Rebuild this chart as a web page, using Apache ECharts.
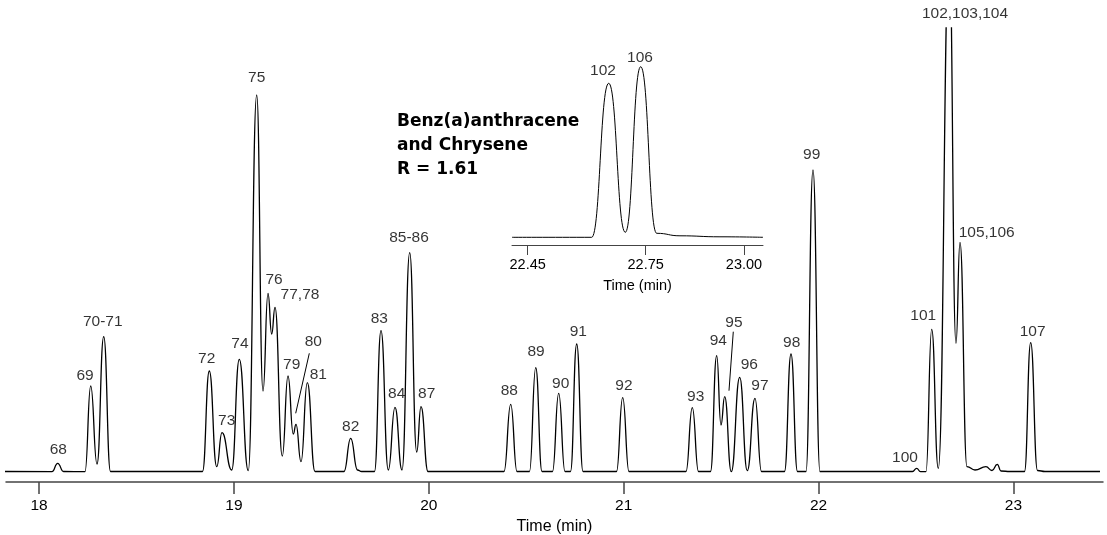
<!DOCTYPE html>
<html><head><meta charset="utf-8">
<script src="https://cdn.jsdelivr.net/npm/echarts@6/dist/echarts.min.js"></script>
<style>html,body{margin:0;padding:0;background:#fff}#c{width:1107px;height:535px}</style>
</head><body><div id="c"></div>
<script>
// ---- main chromatogram trace (time in min, detector signal in arbitrary units) ----
const traceTimes = [
  17.825, 18.066, 18.0954, 18.1252, 18.2355, 18.2648, 18.2971, 18.3315, 18.3664,
  18.8385, 18.8734, 18.9114, 18.9386, 18.9883, 19.0273, 19.0735, 19.1166, 19.1490,
  19.1746, 19.1936, 19.2105, 19.2480, 19.2773, 19.3044, 19.3183, 19.3440, 19.3763,
  19.4158, 19.5646, 19.5990, 19.6339, 19.6550, 19.7211, 19.7545, 19.7920, 19.8263, 19.8623,
  19.9018, 19.9377, 19.9597, 19.9957, 20.3857, 20.4201, 20.4524, 20.5165, 20.5484,
  20.5807, 20.6346, 20.6664, 20.6987, 20.7269, 20.7588, 20.7911, 20.9630, 20.9948,
  21.0271, 21.3196, 21.3520, 21.3838, 21.4454, 21.4772, 21.4992, 21.5182, 21.5521,
  21.5952, 21.6342, 21.6737, 21.7071, 21.8251, 21.8585, 21.8918, 21.9354, 21.9714,
  22.0073, 22.4819, 22.5035, 22.5230, 22.5512, 22.5805, 22.6143, 22.6708, 22.7052,
  22.7257, 22.7616, 22.8027, 22.8591, 22.8899, 22.9171, 22.9361, 22.9823, 23.0567,
  23.0885, 23.1234, 23.1619, 23.4441
];
const traceSignals = [
  0.5, 0.3, 8.7, 0.5, 0.3, 86, 8, 135.3, 0.5,
  0.5, 101, 5.3, 39.3, 2, 112.7, 1.3, 377, 81,
  178.7, 138, 164.7, 16, 96, 38, 47.7, 10.3, 89.3,
  0.5, 0.5, 33.7, 2, 0.5, 0.5, 141.3, 2, 64.7, 2,
  219.3, 20, 65.3, 0.5, 0.5, 67.7, 0.5, 0.5, 104.3,
  0.5, 0.5, 78.7, 0.5, 0.5, 128, 0.5, 0.5, 74.3,
  0.5, 0.5, 64.3, 0.5, 0.5, 116.3, 47, 75.3, 0.3,
  94.7, 1.3, 73.7, 0.5, 0.5, 118, 0.5, 0.5, 302,
  0.5, 0.5, 3.7, 0.3, 0.3, 142.7, 3.7, 520, 128.7,
  229.7, 5.3, 2, 5.3, 1.5, 7.7, 1, 0.5, 0.5,
  129.3, 1.5, 0.5, 0.5
];

// ---- peak identifications (apex time / apex signal) ----
const peakNames = ['68','69','70-71','72','73','74','75','76','77,78','79','80','81','82','83','84',
  '85-86','87','88','89','90','91','92','93','94','95','96','97','98','99','100','101',
  '102,103,104','105,106','107'];
const peakTimes = [18.0954, 18.2648, 18.3315, 18.8734, 18.9386, 19.0273, 19.1166, 19.1746, 19.2105,
  19.2773, 19.3183, 19.3763, 19.5990, 19.7545, 19.8263, 19.9018, 19.9597, 20.4201, 20.5484,
  20.6664, 20.7588, 20.9948, 21.3520, 21.4772, 21.5182, 21.5952, 21.6737, 21.8585, 21.9714,
  22.5035, 22.5805, 22.6708, 22.7257, 23.0885];
const peakSignals = [8.7, 86, 135.3, 101, 39.3, 112.7, 377, 178.7, 164.7,
  96, 47.7, 89.3, 33.7, 141.3, 64.7, 219.3, 65.3, 67.7, 104.3,
  78.7, 128, 74.3, 64.3, 116.3, 75.3, 94.7, 73.7, 118, 302,
  3.7, 142.7, 520, 229.7, 129.3];

// ---- inset: benz(a)anthracene / chrysene ----
const insetTimes = [22.4101, 22.6127, 22.6560, 22.6982, 22.7373, 22.7780, 22.8372, 22.9389, 23.0483];
const insetSignals = [0, 0, 154, 5, 170.6, 4, 1.5, 0.5, 0];
const insetPeakNames = ['102', '106'];
const insetPeakTimes = [22.6560, 22.7373];
const insetPeakSignals = [154, 170.6];

const mainTicks = [18, 19, 20, 21, 22, 23];
const insetTicks = [22.45, 22.75, 23.00];
const axisTitle = 'Time (min)';
const annotationLines = ['Benz(a)anthracene', 'and Chrysene', 'R = 1.61'];

// ---- label placement (pixel offsets from each apex) ----
const labelOffsets = {
  '68':[0.6,-13.3],'69':[-5.7,-10.3],'70-71':[-1,-15],'72':[-2.6,-12.7],'73':[4.7,-12],
  '74':[0.7,-15.3],'75':[0,-17],'76':[6,-13.3],'77,78':[25,-12.3],'79':[3.7,-11.7],
  '80':[17.3,-82.6],'81':[11,-7.7],'82':[0,-11.6],'83':[-1.7,-12.4],'84':[1.7,-13.3],
  '85-86':[-0.7,-14.7],'87':[5.7,-12.7],'88':[-1.4,-13.3],'89':[0.3,-16],'90':[2,-9.3],
  '91':[1.6,-12.3],'92':[1.3,-11.7],'93':[3.4,-11],'94':[1.6,-15],'95':[9.3,-74],
  '96':[9.6,-12.3],'97':[5,-12.3],'98':[0.7,-11.3],'99':[-1.3,-15],'100':[-11.7,-11],
  '101':[-8.4,-13.3],'102,103,104':[15.7,62],'105,106':[26.7,-10],'107':[2,-11]
};
const insetLabelOffsets = {'102':[-5.7,-12.6],'106':[-0.7,-9.4]};
const leaderLines = {'80':[[13.3,-71],[-0.3,-11]], '95':[[8.6,-65],[4.3,-6]]};

const FONT = '"Liberation Sans", Arial, sans-serif';
const chart = echarts.init(document.getElementById('c'), null, {renderer: 'canvas'});

const zip = (a, b) => a.map((v, i) => [v, b[i]]);
const labelData = (names, times, sigs, offs) => names.map((n, i) => ({
  name: n, value: [times[i], sigs[i]],
  label: {offset: offs[n] || [0, -12]}
}));

const axisCommon = (ticks, fontSize, tickLen, margin, fmt, lw) => ({
  type: 'value',
  axisLine: {show: true, onZero: false, lineStyle: {color: '#444', width: lw}},
  axisTick: {show: true, length: tickLen, customValues: ticks, lineStyle: {color: '#444', width: lw}},
  axisLabel: {customValues: ticks, color: '#000', fontSize: fontSize, fontFamily: FONT, margin: margin,
    formatter: fmt},
  splitLine: {show: false},
  nameLocation: 'middle',
  nameTextStyle: {color: '#000', fontFamily: FONT}
});

const xMain = Object.assign(axisCommon(mainTicks, 15.5, 12, 16, v => String(v), 1.5), {
  gridIndex: 0, min: 17.8301, max: 23.4596, name: axisTitle, nameGap: 35
});
xMain.nameTextStyle.fontSize = 16;
const xInset = Object.assign(axisCommon(insetTicks, 14.5, 10, 12, v => v.toFixed(2), 1), {
  gridIndex: 1, min: 22.4101, max: 23.0483, name: axisTitle, nameGap: 33
});
xInset.nameTextStyle.fontSize = 14.5;

chart.setOption({
  animation: false,
  backgroundColor: '#fff',
  grid: [
    {left: 6, right: 4, top: 28, bottom: 53, containLabel: false, outerBoundsMode: 'none'},
    {left: 512, right: 344, top: 60, bottom: 290, containLabel: false, outerBoundsMode: 'none'}
  ],
  xAxis: [xMain, xInset],
  yAxis: [
    {type: 'value', gridIndex: 0, min: -10, max: 444, show: false},
    {type: 'value', gridIndex: 1, min: -7.7, max: 177.3, show: false}
  ],
  series: [
    {type: 'line', xAxisIndex: 0, yAxisIndex: 0, data: zip(traceTimes, traceSignals),
     showSymbol: false, smooth: 0.5, smoothMonotone: 'x', clip: true,
     lineStyle: {color: '#000', width: 1.3}, z: 2},
    {type: 'scatter', xAxisIndex: 0, yAxisIndex: 0, clip: false, symbolSize: 1,
     itemStyle: {color: 'rgba(0,0,0,0)'}, silent: true, z: 3,
     label: {show: true, position: 'inside', formatter: p => p.name, color: '#000',
       fontSize: 15.5, fontFamily: FONT},
     data: labelData(peakNames, peakTimes, peakSignals, labelOffsets)},
    {type: 'line', xAxisIndex: 1, yAxisIndex: 1, data: zip(insetTimes, insetSignals),
     showSymbol: false, smooth: 0.5, smoothMonotone: 'x', clip: true,
     lineStyle: {color: '#000', width: 1}, z: 2},
    {type: 'scatter', xAxisIndex: 1, yAxisIndex: 1, clip: false, symbolSize: 1,
     itemStyle: {color: 'rgba(0,0,0,0)'}, silent: true, z: 3,
     label: {show: true, position: 'inside', formatter: p => p.name, color: '#000',
       fontSize: 15.5, fontFamily: FONT},
     data: labelData(insetPeakNames, insetPeakTimes, insetPeakSignals, insetLabelOffsets)}
  ]
});

// leader lines for crowded labels, anchored to the apex through the axis scales
const graphics = [];
Object.keys(leaderLines).forEach(name => {
  const i = peakNames.indexOf(name);
  const p = chart.convertToPixel({gridIndex: 0}, [peakTimes[i], peakSignals[i]]);
  const [a, b] = leaderLines[name];
  graphics.push({type: 'line', silent: true, z: 5,
    shape: {x1: p[0] + a[0], y1: p[1] + a[1], x2: p[0] + b[0], y2: p[1] + b[1]},
    style: {stroke: '#000', lineWidth: 1}});
});
graphics.push({type: 'text', left: 397, top: 110, silent: true, z: 5,
  style: {text: annotationLines.join('\n'), font: 'bold 17px "DejaVu Sans", Verdana, sans-serif',
    lineHeight: 24, fill: '#000'}});
chart.setOption({graphic: graphics});
</script>
</body></html>
